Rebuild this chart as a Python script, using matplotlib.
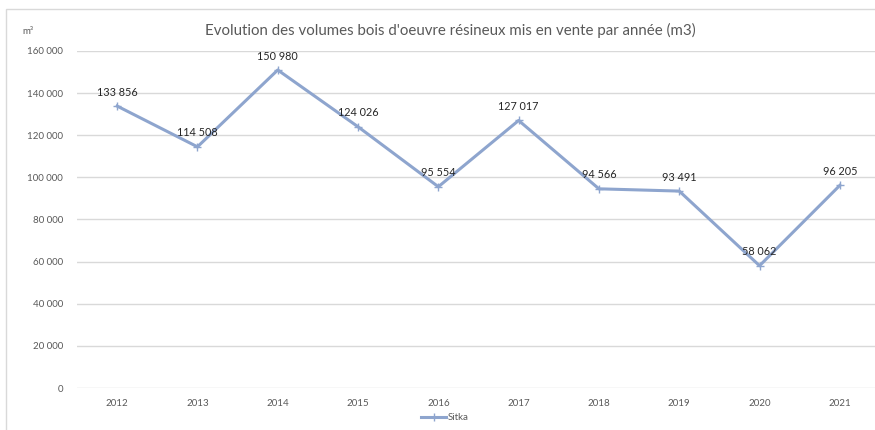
import matplotlib.pyplot as plt
from matplotlib.patches import Rectangle
from matplotlib.lines import Line2D

years = ["2012", "2013", "2014", "2015", "2016", "2017", "2018", "2019", "2020", "2021"]
volumes = [133856, 114508, 150980, 124026, 95554, 127017, 94566, 93491, 58062, 96205]
yticks = [0, 20000, 40000, 60000, 80000, 100000, 120000, 140000, 160000]

LINE_C = "#8EA5CE"
GREY = "#595959"


def fmt(v):
    return f"{v:,}".replace(",", " ")


plt.rcParams["font.family"] = ["Lato", "DejaVu Sans"]

fig = plt.figure(figsize=(8.75, 4.30), dpi=100)
# cadre du graphique (coupé à droite et en bas)
fig.patches.append(Rectangle((6 / 875, -0.05), 1.2, 1 - 9 / 430 + 0.05, transform=fig.transFigure,
                             fill=False, edgecolor="#D9D9D9", lw=1))

ax = fig.add_axes([77 / 875, 1 - 388 / 430, (880 - 77) / 875, (388 - 51) / 430])
x = list(range(len(years)))
ax.plot(x, volumes, color=LINE_C, lw=2.2, marker="+", ms=6, mew=1, mec=LINE_C, zorder=3)
for xi, v in zip(x, volumes):
    ax.annotate(fmt(v), (xi, v), xytext=(0, 6), textcoords="offset points",
                ha="center", va="bottom", fontsize=7.8, color="#262626")

ax.set_xlim(-0.5, len(years) - 0.5)
ax.set_ylim(0, 160000)
ax.set_yticks(yticks)
ax.set_yticklabels([fmt(t) for t in yticks])
ax.set_xticks(x)
ax.set_xticklabels(years)
ax.tick_params(length=0, labelsize=7, labelcolor=GREY)
ax.tick_params(axis="y", pad=10)
ax.tick_params(axis="x", pad=8)
ax.grid(axis="y", color="#D9D9D9", lw=1)
ax.set_axisbelow(True)
for s in ax.spines.values():
    s.set_visible(False)

fig.text(450 / 875, 1 - 30 / 430, "Evolution des volumes bois d'oeuvre résineux mis en vente par année (m3)",
         ha="center", va="center", fontsize=10.8, color=GREY)
fig.text(28 / 875, 1 - 32 / 430, "m³", ha="center", va="center", fontsize=7, color=GREY)

handle = Line2D([], [], color=LINE_C, lw=2.2, marker="+", ms=6, mec=LINE_C)
fig.legend([handle], ["Sitka"], loc="center", bbox_to_anchor=(445 / 875, 1 - 418 / 430),
           frameon=False, fontsize=7, labelcolor=GREY, handlelength=2.5, handletextpad=0.2)

fig.savefig("out.png", dpi=100)
